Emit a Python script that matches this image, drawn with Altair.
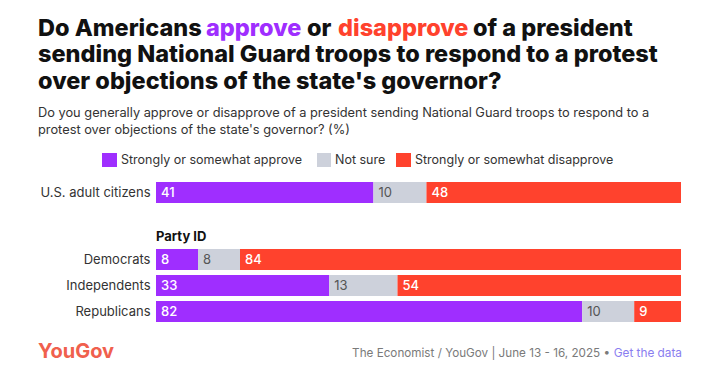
import altair as alt
import pandas as pd

# ---- data ----
groups = ["U.S. adult citizens", "Democrats", "Independents", "Republicans"]
categories = ["Strongly or somewhat approve", "Not sure", "Strongly or somewhat disapprove"]
approve = [41, 8, 33, 82]
not_sure = [10, 8, 13, 10]
disapprove = [48, 84, 54, 9]
colors = ["#9f2eff", "#cdd1db", "#ff422d"]

rows = []
for i, g in enumerate(groups):
    for j, (c, vals) in enumerate(zip(categories, [approve, not_sure, disapprove])):
        rows.append({"group": g, "category": c, "order": j, "value": vals[i]})
df = pd.DataFrame(rows)

FONT = "Inter"
W = 525
TXT = "#333333"
one = pd.DataFrame({"k": [0]})


def bars(filt, height, pad_inner, sort):
    base = (
        alt.Chart(df)
        .transform_filter(filt)
        .transform_joinaggregate(total="sum(value)", groupby=["group"])
        .transform_window(cum="sum(value)", sort=[alt.SortField("order")],
                          groupby=["group"], frame=[None, 0])
        .transform_calculate(start="(datum.cum - datum.value) / datum.total",
                             end="datum.cum / datum.total")
    )
    y = alt.Y("group:N", sort=sort,
              scale=alt.Scale(paddingInner=pad_inner, paddingOuter=0),
              axis=alt.Axis(title=None, domain=False, ticks=False, labelFont=FONT,
                            labelFontSize=13, labelColor=TXT, labelPadding=6))
    x = alt.X("start:Q", scale=alt.Scale(domain=[0, 1]), axis=None)
    rect = base.mark_bar().encode(
        x=x, x2="end:Q", y=y,
        color=alt.Color("category:N", scale=alt.Scale(domain=categories, range=colors), legend=None),
    )
    lab_white = base.transform_filter(alt.datum.order != 1).mark_text(
        align="left", baseline="middle", dx=5, font=FONT, fontSize=13, fontWeight=500, color="white"
    ).encode(x=x, y=y, text="value:Q")
    lab_grey = base.transform_filter(alt.datum.order == 1).mark_text(
        align="left", baseline="middle", dx=5, font=FONT, fontSize=13, fontWeight=400, color="#555555"
    ).encode(x=x, y=y, text="value:Q")
    return alt.layer(rect, lab_white, lab_grey).properties(width=W, height=height)


def txt(s, x, y, size, color, weight=400, align="left", baseline="alphabetic", lh=None):
    kw = {}
    if lh is not None:
        kw["lineHeight"] = lh
    return alt.Chart(one).mark_text(
        text=s, align=align, baseline=baseline, font=FONT, fontSize=size,
        fontWeight=weight, color=color, **kw
    ).encode(x=alt.value(x), y=alt.value(y))


def box(x1, x2, y1, y2, color):
    return alt.Chart(one).mark_rect(color=color).encode(
        x=alt.value(x1), x2=alt.value(x2), y=alt.value(y1), y2=alt.value(y2))


TS = 23.5
BLK = "#111111"
header = alt.layer(
    txt("Do Americans", -118, 27.5, TS, BLK, 800),
    txt("approve", 50, 27.5, TS, colors[0], 800),
    txt("or", 151, 27.5, TS, BLK, 800),
    txt("disapprove", 182, 27.5, TS, colors[2], 800),
    txt("of a president", 317, 27.5, TS, BLK, 800),
    txt(["sending National Guard troops to respond to a protest",
         "over objections of the state's governor?"], -118, 54, TS, BLK, 800, lh=26.5),
    txt(["Do you generally approve or disapprove of a president sending National Guard troops to respond to a",
         "protest over objections of the state's governor? (%)"], -118, 109, 12.8, TXT, lh=17),
    box(-54, -39, 145, 159, colors[0]),
    txt(categories[0], -35, 152, 12.5, TXT, baseline="middle"),
    box(161, 175, 145, 159, colors[1]),
    txt(categories[1], 179, 152, 12.5, TXT, baseline="middle"),
    box(240, 255, 145, 159, colors[2]),
    txt(categories[2], 259, 152, 12.5, TXT, baseline="middle"),
).properties(width=W, height=174)

us = bars(alt.datum.group == groups[0], 21, 0, groups[:1])
gap = txt("Party ID", 0, 38, 13, BLK, 700).properties(width=W, height=46)
party = bars(alt.datum.group != groups[0], 73, 5 / 26, groups[1:])

footer = alt.layer(
    txt("YouGov", -118, 29, 20, "#f0604d", 700, baseline="middle"),
    txt("The Economist / YouGov | June 13 - 16, 2025 \u2022", 454, 30, 11.7, "#7a7a7a", baseline="middle", align="right"),
    txt("Get the data", 526, 30, 11.8, "#8a7df0", baseline="middle", align="right"),
).properties(width=W, height=45)

chart = alt.vconcat(header, us, gap, party, footer, spacing=0).properties(
    padding={"left": 30, "top": 0, "right": 10, "bottom": 5}
).configure_view(stroke=None)

chart.save("out.html", embed_options={"renderer": "svg", "actions": False})
